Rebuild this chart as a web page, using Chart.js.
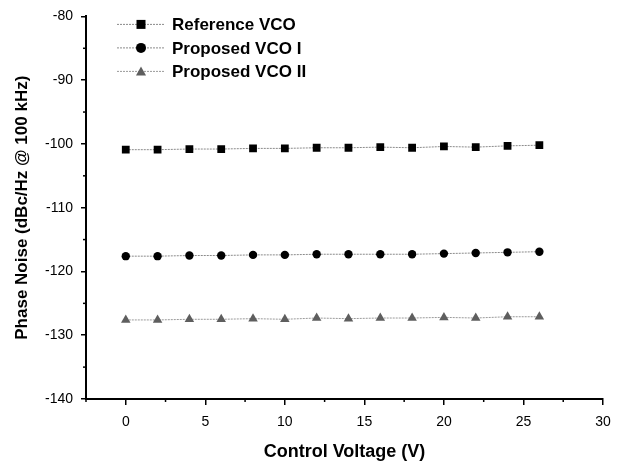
<!DOCTYPE html>
<html>
<head>
<meta charset="utf-8">
<script src="https://cdn.jsdelivr.net/npm/chart.js@4.4.1/dist/chart.umd.min.js"></script>
<style>
  html, body { margin: 0; padding: 0; background: #fff; }
  #wrap { width: 627px; height: 464px; position: relative; }
</style>
</head>
<body>
<div id="wrap"><canvas id="chart"></canvas></div>
<script>
// control voltage (V)
const voltage = [0, 2, 4, 6, 8, 10, 12, 14, 16, 18, 20, 22, 24, 26];
// phase noise, dBc/Hz @ 100 kHz
const referenceVco = [-100.9, -100.9, -100.8, -100.8, -100.7, -100.7, -100.6, -100.6, -100.5, -100.6, -100.4, -100.5, -100.3, -100.2];
const proposedVco1 = [-117.6, -117.6, -117.5, -117.5, -117.4, -117.4, -117.3, -117.3, -117.3, -117.3, -117.2, -117.1, -117.0, -116.9];
const proposedVco2 = [-127.6, -127.6, -127.5, -127.5, -127.4, -127.5, -127.3, -127.4, -127.3, -127.3, -127.2, -127.3, -127.1, -127.1];

const xTickLabels = [0, 5, 10, 15, 20, 25, 30];
const yTickLabels = [-140, -130, -120, -110, -100, -90, -80];

const seriesNames = ['Reference VCO', 'Proposed VCO I', 'Proposed VCO II'];

const toPoints = arr => arr.map((v, i) => ({ x: voltage[i], y: v }));

const FONT = '"Liberation Sans", Arial, sans-serif';

// minor ticks are drawn shorter, major ticks come from chart.js
const minorTicks = {
    id: 'minorTicks',
    afterDraw(chart) {
        const ctx = chart.ctx;
        const xs = chart.scales.x, ys = chart.scales.y;
        ctx.save();
        ctx.strokeStyle = '#000';
        ctx.lineWidth = 1.5;
        for (let v = -2.5; v <= 30; v += 5) {
            const px = xs.getPixelForValue(v);
            ctx.beginPath();
            ctx.moveTo(px, ys.bottom);
            ctx.lineTo(px, ys.bottom + 3);
            ctx.stroke();
        }
        for (let v = -135; v <= -80; v += 10) {
            const py = ys.getPixelForValue(v);
            ctx.beginPath();
            ctx.moveTo(xs.left, py);
            ctx.lineTo(xs.left - 3, py);
            ctx.stroke();
        }
        ctx.restore();
    }
};

// legend sits inside the plot area at top left
const innerLegend = {
    id: 'innerLegend',
    afterDraw(chart) {
        const ctx = chart.ctx;
        const area = chart.chartArea;
        ctx.save();
        chart.data.datasets.forEach((ds, i) => {
            const y = area.top + 8 + i * 23.5;
            const x0 = area.left + 31;
            const x1 = x0 + 48;
            ctx.strokeStyle = ds.borderColor;
            ctx.lineWidth = 1;
            ctx.setLineDash([2, 1]);
            ctx.beginPath();
            ctx.moveTo(x0, y);
            ctx.lineTo(x1, y);
            ctx.stroke();
            ctx.setLineDash([]);
            const cx = (x0 + x1) / 2;
            ctx.fillStyle = ds.pointBackgroundColor;
            ctx.beginPath();
            if (ds.pointStyle === 'rect') {
                ctx.rect(cx - 4.5, y - 4.5, 9, 9);
            } else if (ds.pointStyle === 'circle') {
                ctx.arc(cx, y, 5, 0, Math.PI * 2);
            } else {
                ctx.moveTo(cx, y - 5);
                ctx.lineTo(cx + 5, y + 4);
                ctx.lineTo(cx - 5, y + 4);
                ctx.closePath();
            }
            ctx.fill();
            ctx.fillStyle = '#000';
            ctx.font = 'bold 17px ' + FONT;
            ctx.textBaseline = 'middle';
            ctx.fillText(ds.label, x1 + 7, y + 1);
        });
        ctx.restore();
    }
};

const ctx = document.getElementById('chart').getContext('2d');

new Chart(ctx, {
    type: 'line',
    data: {
        datasets: [
            {
                label: seriesNames[0],
                data: toPoints(referenceVco),
                borderColor: '#8a8a8a',
                borderWidth: 1,
                borderDash: [2, 1],
                pointStyle: 'rect',
                pointRadius: 5.5,
                pointBackgroundColor: '#000',
                pointBorderColor: '#000',
                pointBorderWidth: 0
            },
            {
                label: seriesNames[1],
                data: toPoints(proposedVco1),
                borderColor: '#8a8a8a',
                borderWidth: 1,
                borderDash: [2, 1],
                pointStyle: 'circle',
                pointRadius: 4.2,
                pointBackgroundColor: '#000',
                pointBorderColor: '#000',
                pointBorderWidth: 0
            },
            {
                label: seriesNames[2],
                data: toPoints(proposedVco2),
                borderColor: '#9a9a9a',
                borderWidth: 1,
                borderDash: [2, 1],
                pointStyle: 'triangle',
                pointRadius: 5.5,
                pointBackgroundColor: '#5e5e5e',
                pointBorderColor: '#5e5e5e',
                pointBorderWidth: 0
            }
        ]
    },
    options: {
        responsive: true,
        maintainAspectRatio: false,
        animation: false,
        layout: { padding: { top: 15, right: 24, left: 0, bottom: 0 } },
        plugins: {
            legend: { display: false },
            tooltip: { enabled: false }
        },
        scales: {
            x: {
                type: 'linear',
                min: -2.5,
                max: 30,
                afterBuildTicks: scale => {
                    scale.ticks = xTickLabels.map(v => ({ value: v }));
                },
                afterFit: scale => { scale.height = 65; },
                grid: {
                    drawOnChartArea: false,
                    drawTicks: true,
                    tickLength: 6,
                    color: '#000',
                    lineWidth: 1.5
                },
                border: { display: true, color: '#000', width: 2 },
                ticks: {
                    color: '#000',
                    padding: 9,
                    font: { family: FONT, size: 14 }
                },
                title: {
                    display: true,
                    text: 'Control Voltage (V)',
                    color: '#000',
                    padding: { top: 4, bottom: 1 },
                    font: { family: FONT, size: 18, weight: 'bold' }
                }
            },
            y: {
                type: 'linear',
                min: -140,
                max: -80,
                afterBuildTicks: scale => {
                    scale.ticks = yTickLabels.map(v => ({ value: v }));
                },
                afterFit: scale => { scale.width = 86; },
                grid: {
                    drawOnChartArea: false,
                    drawTicks: true,
                    tickLength: 5,
                    color: '#000',
                    lineWidth: 1.5
                },
                border: { display: true, color: '#000', width: 2 },
                ticks: {
                    color: '#000',
                    padding: 8,
                    font: { family: FONT, size: 14 }
                },
                title: {
                    display: true,
                    text: 'Phase Noise (dBc/Hz @ 100 kHz)',
                    color: '#000',
                    padding: { top: 12, bottom: 4 },
                    font: { family: FONT, size: 17, weight: 'bold' }
                }
            }
        }
    },
    plugins: [minorTicks, innerLegend]
});
</script>
</body>
</html>
